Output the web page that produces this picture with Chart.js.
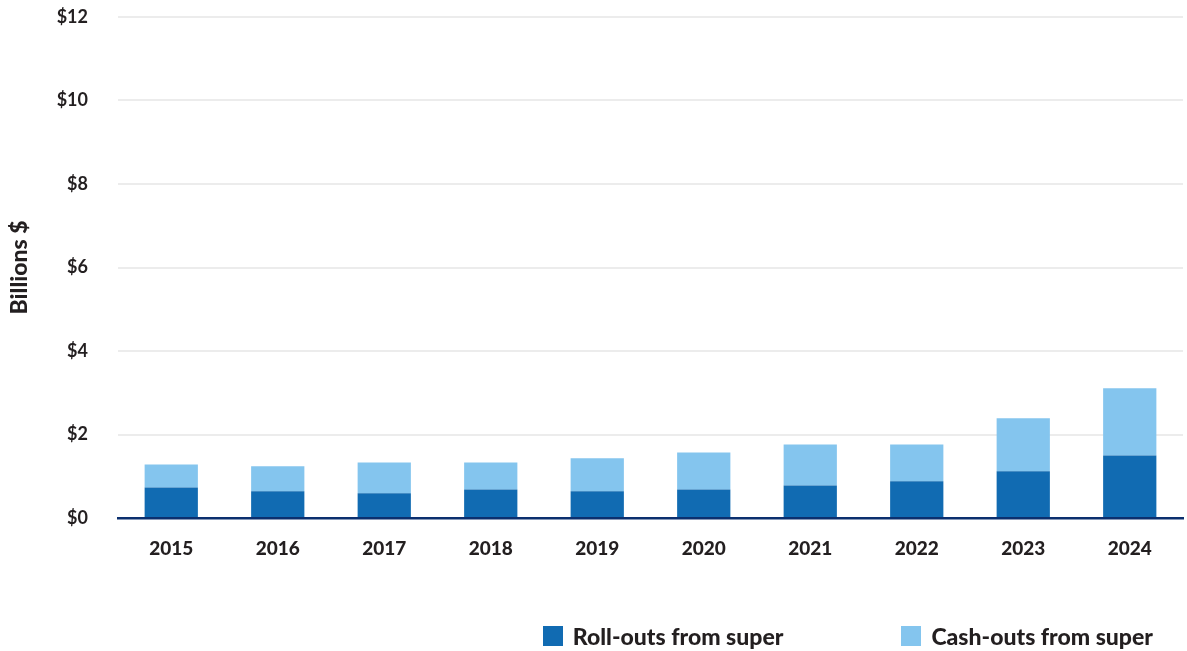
<!DOCTYPE html>
<html lang="en">
<head>
  <meta charset="UTF-8" />
  <title>Roll-outs and Cash-outs from super</title>
  <script src="https://cdn.jsdelivr.net/npm/chart.js"></script>
  <style>
    html, body { margin: 0; padding: 0; background: #fff; }
    #wrap { position: relative; width: 1187px; height: 651px; }
    #legend {
      position: absolute; top: 622px; right: 34px;
      display: flex; align-items: center;
      font-family: Lato, "Open Sans", sans-serif; font-weight: 900; font-size: 23px; color: #231f20;
    }
    #legend span.box { display: inline-block; width: 20px; height: 20px; margin-right: 10px; }
    #legend .item { display: flex; align-items: center; }
    #legend .item + .item { margin-left: 118px; }
  </style>
</head>
<body>
  <div id="wrap">
    <canvas id="chart" width="1187" height="651"></canvas>
    <div id="legend"></div>
  </div>

  <script>
    // values, billions of dollars
    const years = ['2015', '2016', '2017', '2018', '2019', '2020', '2021', '2022', '2023', '2024'];
    const rollOuts = [0.73, 0.64, 0.59, 0.68, 0.64, 0.68, 0.78, 0.88, 1.12, 1.50];
    const cashOuts = [0.55, 0.60, 0.74, 0.65, 0.79, 0.89, 0.98, 0.88, 1.27, 1.61];
    const yTicks = [0, 2, 4, 6, 8, 10, 12];

    const darkBlue = '#116bb2';
    const lightBlue = '#84c5ee';
    const textColor = '#231f20';
    const fontFam = 'Lato, "Open Sans", sans-serif';

    const ctx = document.getElementById('chart').getContext('2d');
    new Chart(ctx, {
      type: 'bar',
      data: {
        labels: years,
        datasets: [
          { label: 'Roll-outs from super', data: rollOuts, backgroundColor: darkBlue },
          { label: 'Cash-outs from super', data: cashOuts, backgroundColor: lightBlue }
        ]
      },
      options: {
        responsive: false,
        animation: false,
        layout: { padding: { top: 17, right: 4, left: 0, bottom: 0 } },
        datasets: { bar: { barPercentage: 1, categoryPercentage: 0.5 } },
        plugins: { legend: { display: false }, tooltip: { enabled: false } },
        scales: {
          x: {
            stacked: true,
            grid: { display: false },
            border: { display: true, color: '#0b2f6e', width: 2.5 },
            ticks: {
              color: textColor, padding: 11,
              font: { family: fontFam, weight: '900', size: 19 }
            },
            afterFit: s => { s.height = 133; }
          },
          y: {
            stacked: true,
            min: 0, max: 12,
            afterBuildTicks: s => { s.ticks = yTicks.map(v => ({ value: v })); },
            grid: {
              color: c => c.tick && c.tick.value === 0 ? 'rgba(0,0,0,0)' : '#ececec',
              lineWidth: 2, drawTicks: false
            },
            border: { display: false },
            ticks: {
              color: textColor, padding: 30,
              font: { family: fontFam, weight: 'bold', size: 18 },
              callback: v => '$' + v
            },
            title: {
              display: true, text: 'Billions $', color: textColor,
              padding: { top: 6, bottom: 0 },
              font: { family: fontFam, weight: '900', size: 23 }
            },
            afterFit: s => { s.width = 118; s.paddingTop = 10; s.paddingBottom = 10; }
          }
        }
      }
    });

    // legend
    const legend = document.getElementById('legend');
    [['Roll-outs from super', darkBlue], ['Cash-outs from super', lightBlue]].forEach(([name, col]) => {
      const d = document.createElement('div');
      d.className = 'item';
      d.innerHTML = `<span class="box" style="background:${col}"></span>${name}`;
      legend.appendChild(d);
    });
  </script>
</body>
</html>
